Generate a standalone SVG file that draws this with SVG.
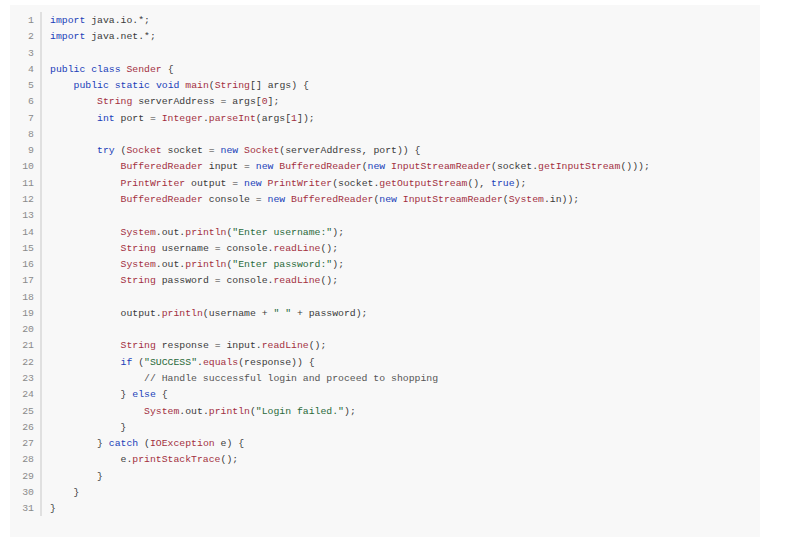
<svg xmlns="http://www.w3.org/2000/svg" width="787" height="542" viewBox="0 0 787 542">
<style>
text{font-family:"Liberation Mono","DejaVu Sans Mono",monospace;font-size:9.8px;fill:#3a3a3a;white-space:pre}
.n{fill:#8a8a8a;text-anchor:end}
.k{fill:#2040b8}
.t{fill:#a3303f}
.s{fill:#2a6a3a}
.c{fill:#555}
</style>
<rect x="10" y="5" width="750" height="532" fill="#f8f8f8"/>
<line x1="41" y1="12" x2="41" y2="516" stroke="#c8c8c8" stroke-width="1"/>
<g id="numbers">
<text class="n" x="34" y="23">1</text><text class="n" x="34" y="39.3">2</text><text class="n" x="34" y="55.5">3</text><text class="n" x="34" y="71.8">4</text><text class="n" x="34" y="88.1">5</text><text class="n" x="34" y="104.4">6</text><text class="n" x="34" y="120.6">7</text><text class="n" x="34" y="136.9">8</text><text class="n" x="34" y="153.2">9</text><text class="n" x="34" y="169.4">10</text><text class="n" x="34" y="185.7">11</text><text class="n" x="34" y="202">12</text><text class="n" x="34" y="218.2">13</text><text class="n" x="34" y="234.5">14</text><text class="n" x="34" y="250.8">15</text><text class="n" x="34" y="267.1">16</text><text class="n" x="34" y="283.3">17</text><text class="n" x="34" y="299.6">18</text><text class="n" x="34" y="315.9">19</text><text class="n" x="34" y="332.1">20</text><text class="n" x="34" y="348.4">21</text><text class="n" x="34" y="364.7">22</text><text class="n" x="34" y="380.9">23</text><text class="n" x="34" y="397.2">24</text><text class="n" x="34" y="413.5">25</text><text class="n" x="34" y="429.8">26</text><text class="n" x="34" y="446">27</text><text class="n" x="34" y="462.3">28</text><text class="n" x="34" y="478.6">29</text><text class="n" x="34" y="494.8">30</text><text class="n" x="34" y="511.1">31</text>
</g>
<g id="code" xml:space="preserve">
<text x="50" y="23"><tspan class="k">import</tspan> java.io.*;</text>
<text x="50" y="39.3"><tspan class="k">import</tspan> java.net.*;</text>
<text x="50" y="71.8"><tspan class="k">public</tspan> <tspan class="k">class</tspan> <tspan class="t">Sender</tspan> {</text>
<text x="50" y="88.1">    <tspan class="k">public</tspan> <tspan class="k">static</tspan> <tspan class="k">void</tspan> <tspan class="t">main</tspan>(<tspan class="t">String</tspan>[] args) {</text>
<text x="50" y="104.4">        <tspan class="t">String</tspan> serverAddress = args[<tspan class="t">0</tspan>];</text>
<text x="50" y="120.6">        <tspan class="k">int</tspan> port = <tspan class="t">Integer</tspan>.<tspan class="t">parseInt</tspan>(args[<tspan class="t">1</tspan>]);</text>
<text x="50" y="153.2">        <tspan class="k">try</tspan> (<tspan class="t">Socket</tspan> socket = <tspan class="k">new</tspan> <tspan class="t">Socket</tspan>(serverAddress, port)) {</text>
<text x="50" y="169.4">            <tspan class="t">BufferedReader</tspan> input = <tspan class="k">new</tspan> <tspan class="t">BufferedReader</tspan>(<tspan class="k">new</tspan> <tspan class="t">InputStreamReader</tspan>(socket.<tspan class="t">getInputStream</tspan>()));</text>
<text x="50" y="185.7">            <tspan class="t">PrintWriter</tspan> output = <tspan class="k">new</tspan> <tspan class="t">PrintWriter</tspan>(socket.<tspan class="t">getOutputStream</tspan>(), <tspan class="k">true</tspan>);</text>
<text x="50" y="202">            <tspan class="t">BufferedReader</tspan> console = <tspan class="k">new</tspan> <tspan class="t">BufferedReader</tspan>(<tspan class="k">new</tspan> <tspan class="t">InputStreamReader</tspan>(<tspan class="t">System</tspan>.in));</text>
<text x="50" y="234.5">            <tspan class="t">System</tspan>.out.<tspan class="t">println</tspan>(<tspan class="s">"Enter username:"</tspan>);</text>
<text x="50" y="250.8">            <tspan class="t">String</tspan> username = console.<tspan class="t">readLine</tspan>();</text>
<text x="50" y="267.1">            <tspan class="t">System</tspan>.out.<tspan class="t">println</tspan>(<tspan class="s">"Enter password:"</tspan>);</text>
<text x="50" y="283.3">            <tspan class="t">String</tspan> password = console.<tspan class="t">readLine</tspan>();</text>
<text x="50" y="315.9">            output.<tspan class="t">println</tspan>(username + <tspan class="s">" "</tspan> + password);</text>
<text x="50" y="348.4">            <tspan class="t">String</tspan> response = input.<tspan class="t">readLine</tspan>();</text>
<text x="50" y="364.7">            <tspan class="k">if</tspan> (<tspan class="s">"SUCCESS"</tspan>.<tspan class="t">equals</tspan>(response)) {</text>
<text x="50" y="380.9">                <tspan class="c">// Handle successful login and proceed to shopping</tspan></text>
<text x="50" y="397.2">            } <tspan class="k">else</tspan> {</text>
<text x="50" y="413.5">                <tspan class="t">System</tspan>.out.<tspan class="t">println</tspan>(<tspan class="s">"Login failed."</tspan>);</text>
<text x="50" y="429.8">            }</text>
<text x="50" y="446">        } <tspan class="k">catch</tspan> (<tspan class="t">IOException</tspan> e) {</text>
<text x="50" y="462.3">            e.<tspan class="t">printStackTrace</tspan>();</text>
<text x="50" y="478.6">        }</text>
<text x="50" y="494.8">    }</text>
<text x="50" y="511.1">}</text>
</g>
</svg>
